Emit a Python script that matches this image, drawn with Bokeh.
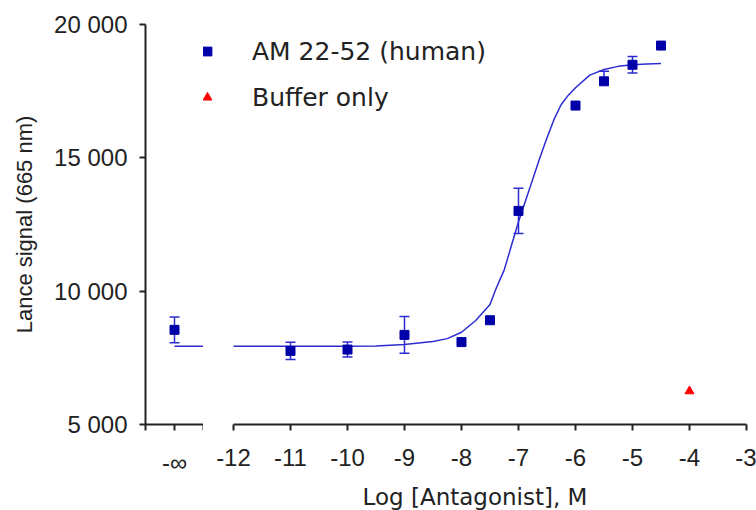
from bokeh.plotting import figure
from bokeh.models import Range1d, FixedTicker, Legend, LegendItem, LinearAxis
from bokeh.layouts import row
from bokeh.embed import file_html
from bokeh.resources import INLINE

# ---------------- data ----------------
# "-inf" (no antagonist) group, shown in a small panel left of the axis break
inf_ticks = [-1, 0, 1]
inf_tick_labels = ["", "-\u221e", ""]
inf_pos = 0
inf_y = [8550]
inf_err = [480]
inf_curve_x = [0, 1]
inf_curve_y = [7930, 7930]

# AM 22-52 (human), log [antagonist] M
ant_x = [-11, -10, -9, -8, -7.5, -7, -6, -5.5, -5, -4.5]
ant_y = [7760, 7810, 8360, 8090, 8910, 13010, 16960, 17870, 18490, 19210]
ant_err_up = [320, 280, 690, 0, 0, 850, 0, 380, 310, 0]
ant_err_dn = [320, 280, 690, 0, 0, 850, 0, 0, 310, 0]

# fitted curve
curve_x = [-12, -11, -10, -9.5, -9, -8.5, -8.25, -8, -7.75, -7.5, -7.4, -7.25, -7.125,
           -7, -6.875, -6.75, -6.625, -6.5, -6.375, -6.25, -6.125, -6, -5.75, -5.5,
           -5.25, -5, -4.75, -4.5]
curve_y = [7930, 7930, 7935, 7945, 8000, 8110, 8220, 8460, 8900, 9500, 10060, 10800, 11700,
           12600, 13400, 14200, 15000, 15750, 16450, 17000, 17350, 17630, 18100, 18310,
           18430, 18490, 18520, 18540]

# Buffer only
buf_x = [-4]
buf_y = [6250]

y_ticks = [5000, 10000, 15000, 20000]
y_tick_labels = ["5 000", "10 000", "15 000", "20 000"]
x_ticks = [-12, -11, -10, -9, -8, -7, -6, -5, -4, -3]
x_tick_labels = ["-12", "-11", "-10", "-9", "-8", "-7", "-6", "-5", "-4", "-3"]
x_break = -12.526          # left edge of the main panel (axis break gap)

# ---------------- style ----------------
SQ_BLUE = "#0000a8"
LN_BLUE = "#2c2cd0"
RED = "#ff0000"
INK = "#222222"
TICK_FONT = "Liberation Sans"
TEXT_FONT = "DejaVu Sans"


def make_axis(ticks, labels, **kw):
    ax = LinearAxis(ticker=FixedTicker(ticks=ticks),
                    major_label_overrides=dict(zip(ticks, labels)), **kw)
    ax.axis_line_color = INK
    ax.axis_line_width = 2
    ax.major_tick_line_color = INK
    ax.major_tick_line_width = 2
    ax.major_tick_out = 6
    ax.major_tick_in = 0
    ax.minor_tick_line_color = None
    ax.major_label_text_font = TICK_FONT
    ax.major_label_text_font_size = "24px"
    ax.major_label_text_color = INK
    ax.axis_label_text_font_style = "normal"
    ax.axis_label_text_color = INK
    return ax


def error_bars(fig, xs, ys, ups, dns):
    rows = [(x, y + u, y - d) for x, y, u, d in zip(xs, ys, ups, dns) if u > 0 or d > 0]
    bx = [r[0] for r in rows]
    hi = [r[1] for r in rows]
    lo = [r[2] for r in rows]
    fig.segment(bx, lo, bx, hi, line_color=LN_BLUE, line_width=1.5)
    fig.scatter(bx + bx, hi + lo, marker="dash", size=10, line_color=LN_BLUE, line_width=1.5)


yr = Range1d(y_ticks[0], y_ticks[-1])

# ---- left panel: y axis and the "-inf" group ----
pL = figure(frame_width=58, frame_height=400, x_range=Range1d(inf_ticks[0], inf_ticks[-1]),
            y_range=yr, output_backend="svg", toolbar_location=None,
            x_axis_location=None, y_axis_location=None,
            min_border_left=145, min_border_right=0, min_border_top=24, min_border_bottom=40)
pL.outline_line_color = None
pL.grid.visible = False

# inner y axis: rule and tick marks only
ya_rule = LinearAxis(ticker=FixedTicker(ticks=y_ticks),
                     major_label_overrides={t: "" for t in y_ticks})
ya_rule.axis_line_color = INK
ya_rule.axis_line_width = 2
ya_rule.major_tick_line_color = INK
ya_rule.major_tick_line_width = 2
ya_rule.major_tick_out = 6
ya_rule.major_tick_in = 0
ya_rule.minor_tick_line_color = None
ya_rule.major_label_standoff = 0
pL.add_layout(ya_rule, "left")

# outer y axis: tick labels and title
ya_lab = LinearAxis(ticker=FixedTicker(ticks=y_ticks),
                    major_label_overrides=dict(zip(y_ticks, y_tick_labels)),
                    axis_label="Lance signal (665 nm)")
ya_lab.axis_line_color = None
ya_lab.major_tick_line_color = None
ya_lab.minor_tick_line_color = None
ya_lab.major_tick_out = 0
ya_lab.major_tick_in = 0
ya_lab.major_label_text_font = TICK_FONT
ya_lab.major_label_text_font_size = "24px"
ya_lab.major_label_text_color = INK
ya_lab.major_label_standoff = 12
ya_lab.axis_label_text_font_style = "normal"
ya_lab.axis_label_text_color = INK
ya_lab.axis_label_text_font_size = "22px"
ya_lab.axis_label_standoff = 14
pL.add_layout(ya_lab, "left")

xi = make_axis(inf_ticks, inf_tick_labels)
xi.major_label_standoff = 18
pL.add_layout(xi, "below")

pL.line(inf_curve_x, inf_curve_y, color=LN_BLUE, line_width=1.5)
error_bars(pL, [inf_pos] * len(inf_y), inf_y, inf_err, inf_err)
pL.scatter([inf_pos] * len(inf_y), inf_y, marker="square", size=9, color=SQ_BLUE)

# ---- main panel ----
pR = figure(frame_width=543, frame_height=400, x_range=Range1d(x_break, x_ticks[-1]),
            y_range=yr, output_backend="svg", toolbar_location=None,
            x_axis_location=None, y_axis_location=None,
            min_border_left=0, min_border_right=10, min_border_top=24, min_border_bottom=60)
pR.outline_line_color = None
pR.grid.visible = False

xa = make_axis(x_ticks, x_tick_labels, bounds=(x_ticks[0], x_ticks[-1]),
               axis_label="Log [Antagonist], M")
xa.major_label_standoff = 18
xa.axis_label_text_font = TEXT_FONT
xa.axis_label_text_font_size = "23px"
xa.axis_label_standoff = 15
pR.add_layout(xa, "below")

pR.line(curve_x, curve_y, color=LN_BLUE, line_width=1.5)
error_bars(pR, ant_x, ant_y, ant_err_up, ant_err_dn)
r_sq = pR.scatter(ant_x, ant_y, marker="square", size=9, color=SQ_BLUE)
r_tri = pR.scatter(buf_x, buf_y, marker="triangle", size=9, color=RED)

legend = Legend(items=[LegendItem(label="AM 22-52 (human)", renderers=[r_sq]),
                       LegendItem(label="Buffer only", renderers=[r_tri])],
                location=(-7, 312), orientation="vertical",
                border_line_color=None, background_fill_alpha=0,
                padding=0, margin=0, spacing=16,
                glyph_width=22, glyph_height=30, label_height=30, label_standoff=34,
                label_text_font=TEXT_FONT, label_text_font_size="25px",
                label_text_color=INK)
pR.add_layout(legend)

open("out.html", "w").write(file_html(row(pL, pR), INLINE))
